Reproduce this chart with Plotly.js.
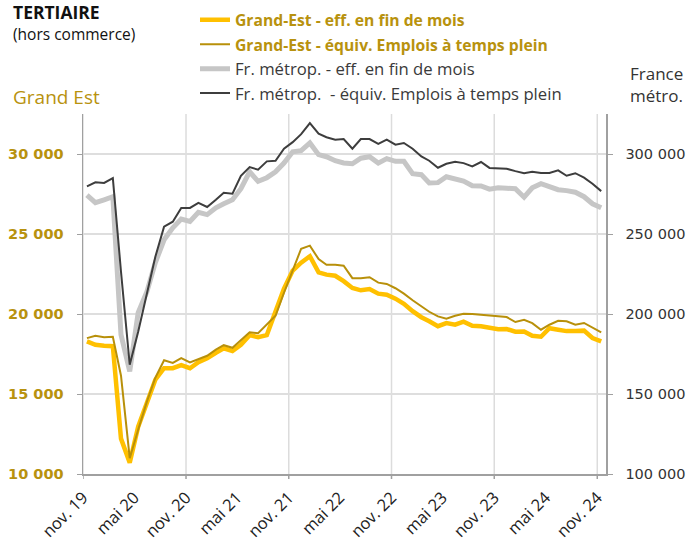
<!DOCTYPE html>
<html>
<head>
<meta charset="utf-8">
<script src="https://cdn.plot.ly/plotly-3.0.1.min.js"></script>
<style>html,body{margin:0;padding:0;background:#fff;}#chart{width:686px;height:541px;}</style>
</head>
<body>
<div id="chart"></div>
<script>
// Months: nov. 2019 .. nov. 2024 (61 monthly points)
const startYear = 2019, startMonth = 11, nMonths = 61;
const months = [];
for (let i = 0; i < nMonths; i++) {
  const m = (startMonth - 1 + i) % 12 + 1;
  const y = startYear + Math.floor((startMonth - 1 + i) / 12);
  months.push(y + '-' + String(m).padStart(2, '0') + '-15');
}

// Tick labels (every 6 months)
const tickDates = ['2019-11-01','2020-05-01','2020-11-01','2021-05-01','2021-11-01','2022-05-01','2022-11-01','2023-05-01','2023-11-01','2024-05-01','2024-11-01'];
const tickLabels = ['nov. 19','mai 20','nov. 20','mai 21','nov. 21','mai 22','nov. 22','mai 23','nov. 23','mai 24','nov. 24'];
const yearGridDates = ['2019-11-01','2020-11-01','2021-11-01','2022-11-01','2023-11-01','2024-11-01'];

// Grand-Est - effectifs en fin de mois (left axis)
const geEff = [18290,18080,18020,17990,12210,10710,12960,14390,15890,16610,
               16610,16800,16610,16990,17240,17580,17860,17690,18080,18680,
               18550,18680,20140,21580,22710,23210,23610,22600,22460,22390,
               22050,21630,21480,21560,21270,21210,20960,20640,20180,19800,
               19550,19240,19430,19330,19520,19270,19230,19110,19050,19060,
               18890,18910,18640,18580,19110,19020,18930,18940,18960,18500,
               18290];
// Grand-Est - équivalent emplois à temps plein (left axis)
const geEtp = [18490,18640,18550,18580,16140,10990,12770,14520,16020,17110,
               16940,17240,16980,17180,17390,17770,18050,17890,18390,18860,
               18800,19360,19890,21330,22770,24080,24270,23430,23080,23080,
               23020,22240,22240,22300,21960,21880,21610,21270,20860,20460,
               20140,19850,19710,19890,20020,20000,19960,19910,19890,19810,
               19500,19640,19430,19020,19330,19580,19540,19330,19440,19130,
               18850];
// France métropolitaine - effectifs en fin de mois (right axis)
const frEff = [274300,269600,271400,273300,187100,164100,200800,213900,232100,246400,
               253900,259300,257900,263500,262100,266400,268900,271400,278300,288900,
               282900,285200,288900,294300,301400,302100,306900,299600,298300,295800,
               294400,293900,297400,298300,294300,297100,295400,295500,287700,287100,
               281900,282100,285800,284600,283100,280200,280000,278000,278900,278600,
               278300,273000,278900,281400,279600,277700,277100,276100,273300,268900,
               266400];
// France métropolitaine - équivalent emplois à temps plein (right axis)
const frEtp = [279800,282300,281900,284900,226400,168300,188900,213300,235800,254600,
               257700,266300,266300,269400,266900,271400,275800,275200,286400,291800,
               290200,295400,295800,303300,307400,312400,319300,312700,310500,308900,
               309300,303300,309300,309300,306300,309000,305800,306900,303300,298500,
               295800,291400,293900,295200,294300,292300,295000,291300,291100,290800,
               289300,288000,288900,288100,288100,289800,286400,288000,285200,281400,
               276800];

const GOLD_TXT = '#B8920E';
const FONT = 'Open Sans, sans-serif';
const TICKFONT = 'DejaVu Sans, sans-serif';

const W = 686, H = 541, L = 83, R = 80, T = 114, B = 67;
const pw = W - L - R, ph = H - T - B;
const px = v => (v - L) / pw;
const py = v => (H - B - v) / ph;

const grayLbl = t => '<span style="color:#3a3a3a;font-size:16.7px">' + t + '</span>';
const goldLbl = t => '<span style="color:' + GOLD_TXT + ';font-size:15.7px"><b>' + t + '</b></span>';

const traces = [
  {x: months, y: frEff, yaxis: 'y2', mode: 'lines', name: grayLbl('Fr. métrop. - eff. en fin de mois'),
   line: {color: '#C6C6C6', width: 5}, legendrank: 3},
  {x: months, y: frEtp, yaxis: 'y2', mode: 'lines', name: grayLbl('Fr. métrop.  - équiv. Emplois à temps plein'),
   line: {color: '#3D3D3D', width: 2}, legendrank: 4},
  {x: months, y: geEff, yaxis: 'y', mode: 'lines', name: goldLbl('Grand-Est - eff. en fin de mois'),
   line: {color: '#FFC000', width: 4.5}, legendrank: 1},
  {x: months, y: geEtp, yaxis: 'y', mode: 'lines', name: goldLbl('Grand-Est - équiv. Emplois à temps plein'),
   line: {color: '#B8900A', width: 2}, legendrank: 2}
];

const shapes = [];
yearGridDates.forEach(d => {
  shapes.push({type: 'line', xref: 'x', yref: 'paper', x0: d, x1: d, y0: 0, y1: 1, layer: 'below',
               line: {color: '#DCDCDC', width: 1.5}});
  shapes.push({type: 'line', xref: 'x', yref: 'paper', x0: d, x1: d, y0: 0, y1: -5 / ph, layer: 'above',
               line: {color: '#A0A0A0', width: 1.5}});
});

const layout = {
  width: W, height: H,
  margin: {l: L, r: R, t: T, b: B, pad: 0, autoexpand: false},
  paper_bgcolor: '#fff', plot_bgcolor: '#fff',
  separators: ', ',
  font: {family: FONT, color: '#333'},
  showlegend: true,
  legend: {x: px(195), y: py(2.5), xanchor: 'left', yanchor: 'top', bgcolor: 'rgba(0,0,0,0)',
           font: {family: FONT, size: 16.5, color: '#3a3a3a'}, tracegroupgap: 0, itemwidth: 30},
  xaxis: {type: 'date', range: ['2019-11-01', '2024-12-02'], tickmode: 'array', tickvals: tickDates, ticktext: tickLabels,
          tickangle: -45, ticks: '', showgrid: false, zeroline: false, showline: true, linecolor: '#A0A0A0', linewidth: 1.5,
          ticklabelstandoff: 6,
          tickfont: {family: FONT, size: 16.5, color: '#222'}, fixedrange: true},
  yaxis: {range: [10000, 32500], tickmode: 'linear', tick0: 10000, dtick: 5000, tickformat: ',.0f',
          showgrid: true, gridcolor: '#DEDEDE', gridwidth: 1.5, zeroline: false, showline: true, linecolor: '#A0A0A0', linewidth: 1.5,
          ticks: 'outside', ticklen: 5, tickcolor: '#A0A0A0', ticklabelstandoff: 10,
          tickfont: {family: TICKFONT, size: 14.5, color: GOLD_TXT, weight: 'bold'}},
  yaxis2: {range: [100000, 325000], overlaying: 'y', side: 'right', tickmode: 'linear', tick0: 100000, dtick: 50000, tickformat: ',.0f',
           showgrid: false, zeroline: false, showline: true, linecolor: '#A0A0A0', linewidth: 1.5,
           ticks: 'outside', ticklen: 5, tickcolor: '#A0A0A0', ticklabelstandoff: 10,
           tickfont: {family: TICKFONT, size: 14.5, color: '#333'}},
  shapes: shapes,
  annotations: [
    {xref: 'paper', yref: 'paper', x: px(11), y: py(12), xanchor: 'left', yanchor: 'middle', showarrow: false,
     text: '<b>TERTIAIRE</b>', font: {family: FONT, size: 17.5, color: '#111', weight: 800}},
    {xref: 'paper', yref: 'paper', x: px(11), y: py(34), xanchor: 'left', yanchor: 'middle', showarrow: false,
     text: '(hors commerce)', font: {family: FONT, size: 15.5, color: '#111'}},
    {xref: 'paper', yref: 'paper', x: px(11), y: py(97), xanchor: 'left', yanchor: 'middle', showarrow: false,
     text: 'Grand Est', font: {family: FONT, size: 19, color: GOLD_TXT}},
    {xref: 'paper', yref: 'paper', x: px(628), y: py(60), xanchor: 'left', yanchor: 'top', showarrow: false, align: 'left',
     text: 'France<br>métro.', font: {family: FONT, size: 17, color: '#333'}}
  ]
};

Plotly.newPlot('chart', traces, layout, {displayModeBar: false, staticPlot: true});
</script>
</body>
</html>
